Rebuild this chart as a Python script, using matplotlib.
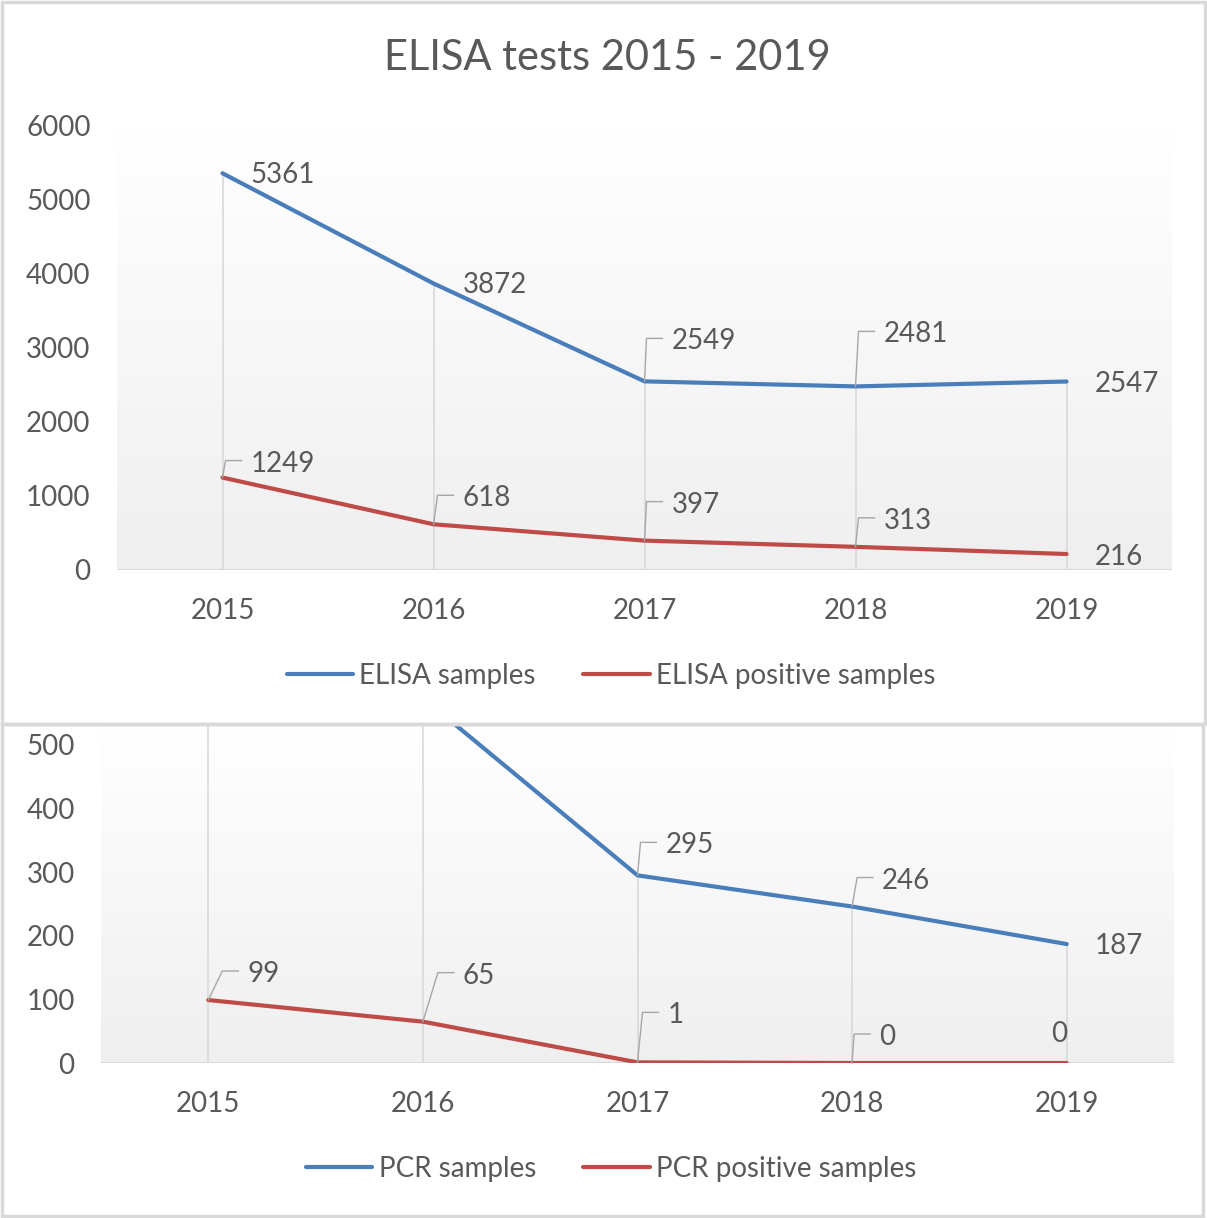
import matplotlib
matplotlib.use("Agg")
import matplotlib.pyplot as plt
import numpy as np
from matplotlib.patches import Rectangle
from matplotlib.lines import Line2D

plt.rcParams['font.family'] = ['Lato', 'DejaVu Sans']

# ---------------- data ----------------
years = ["2015", "2016", "2017", "2018", "2019"]
elisa_samples = [5361, 3872, 2549, 2481, 2547]
elisa_positive = [1249, 618, 397, 313, 216]
pcr_samples = [700, 574, 295, 246, 187]   # first two are clipped in the original
pcr_positive = [99, 65, 1, 0, 0]
elisa_yticks = [0, 1000, 2000, 3000, 4000, 5000, 6000]
pcr_yticks = [0, 100, 200, 300, 400, 500]

# ---------------- style ----------------
BLUE = "#4A7EBB"
RED = "#BE4B48"
TXT = "#595959"
GRID = "#D9D9D9"
LW = 3.0
FS = 20
TEXT_SHIFT = -3  # small vertical correction of data-label text (px)

# label offsets in pixels (dx, dy, leader, ha)
lab_elisa_s = [(28, 1, False, 'left'), (29, 1, False, 'left'), (27, 43, True, 'left'),
               (28, 55, True, 'left'), (28, 1, False, 'left')]
lab_elisa_p = [(28, 17, True, 'left'), (29, 29, True, 'left'), (27, 39, True, 'left'),
               (28, 29, True, 'left'), (28, 0, False, 'left')]
lab_pcr_s = [(28, 30, True, 'left'), (29, 30, True, 'left'), (28, 33, True, 'left'),
             (30, 29, True, 'left'), (28, 1, False, 'left')]
lab_pcr_p = [(39, 29, True, 'left'), (40, 49, True, 'left'), (30, 50, True, 'left'),
             (27, 29, True, 'left'), (-8, 32, False, 'center')]

W, H = 1207, 1218
fig = plt.figure(figsize=(W / 100, H / 100), dpi=100)
fig.patch.set_facecolor("white")


def fx(px):
    return px / W


def fy(py):
    return 1 - py / H


# panel borders
fig.patches.append(Rectangle((fx(2), fy(724)), fx(1205) - fx(2), fy(2) - fy(724),
                             transform=fig.transFigure, fill=False, ec=GRID, lw=2.5, zorder=0))
fig.patches.append(Rectangle((fx(2), fy(1216)), fx(1203) - fx(2), fy(724) - fy(1216),
                             transform=fig.transFigure, fill=False, ec=GRID, lw=2.5, zorder=0))


def make_axes(left, right, top, bottom):
    ax = fig.add_axes([fx(left), fy(bottom), fx(right) - fx(left), fy(top) - fy(bottom)])
    ax.set_facecolor("none")
    for s in ax.spines.values():
        s.set_visible(False)
    return ax


def draw_chart(ax, s1, s2, yticks, ylim, labs1, labs2, names):
    x = np.arange(len(years))
    grad = np.linspace(1.0, 0.0, 256).reshape(-1, 1)
    ax.imshow(grad, extent=[0, 1, 0, 1], transform=ax.transAxes, aspect='auto',
              cmap=matplotlib.colors.LinearSegmentedColormap.from_list("g", ["#EFEFEF", "#FFFFFF"]),
              zorder=0, interpolation='bilinear')
    ax.set_xlim(-0.5, len(years) - 0.5)
    ax.set_ylim(*ylim)
    # drop lines
    top = np.maximum(s1, s2)
    ax.vlines(x, 0, top, color=GRID, lw=1.2, zorder=1)
    ax.axhline(0, color=GRID, lw=1.5, zorder=1)
    l1, = ax.plot(x, s1, color=BLUE, lw=LW, zorder=3, solid_capstyle='round', label=names[0])
    l2, = ax.plot(x, s2, color=RED, lw=LW, zorder=3, solid_capstyle='round', label=names[1])
    ax.set_xticks(x)
    ax.set_xticklabels(years)
    ax.set_yticks(yticks)
    ax.tick_params(axis='both', length=0, labelsize=FS, labelcolor=TXT)
    ax.tick_params(axis='y', pad=19)
    ax.tick_params(axis='x', pad=20)
    fig.canvas.draw()
    for series, labs in ((s1, labs1), (s2, labs2)):
        for i, v in enumerate(series):
            if v > ylim[1]:
                continue
            dx, dy, leader, ha = labs[i]
            ax.annotate(str(v), xy=(i, v), xytext=(dx, dy + TEXT_SHIFT), textcoords='offset pixels',
                        ha=ha, va='center', fontsize=FS, color=TXT, zorder=5)
            if leader:
                px, py = ax.transData.transform((i, v))
                xs = [px, px + dx - 25, px + dx - 9]
                ys = [py, py + dy, py + dy]
                fig.add_artist(Line2D(xs, ys, transform=None, color="#A6A6A6", lw=1.0, zorder=4))
    return l1, l2


# top chart
ax1 = make_axes(117, 1172, 126, 570)
h1 = draw_chart(ax1, elisa_samples, elisa_positive, elisa_yticks, (0, 6000),
                lab_elisa_s, lab_elisa_p, ["ELISA samples", "ELISA positive samples"])
fig.text(fx(607), fy(58), "ELISA tests 2015 - 2019", ha='center', va='center',
         fontsize=30, color=TXT)
fig.legend(handles=list(h1), loc='center', bbox_to_anchor=(fx(611), fy(676)), ncol=2,
           frameon=False, fontsize=FS, labelcolor=TXT, handlelength=2.4, handletextpad=0.22,
           columnspacing=1.7)

# bottom chart
ax2 = make_axes(101, 1174, 725, 1063)
h2 = draw_chart(ax2, pcr_samples, pcr_positive, pcr_yticks, (0, 531.4),
                lab_pcr_s, lab_pcr_p, ["PCR samples", "PCR positive samples"])
fig.legend(handles=list(h2), loc='center', bbox_to_anchor=(fx(611), fy(1169)), ncol=2,
           frameon=False, fontsize=FS, labelcolor=TXT, handlelength=2.4, handletextpad=0.22,
           columnspacing=1.7)

fig.savefig("out.png", dpi=100, facecolor="white")
